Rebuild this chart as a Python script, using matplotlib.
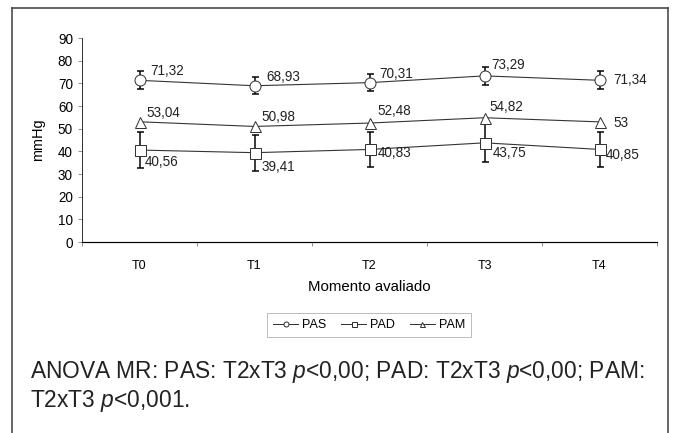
import matplotlib
matplotlib.use('Agg')
from matplotlib import pyplot as plt
from matplotlib.lines import Line2D

plt.rcParams['font.family'] = ['Liberation Sans', 'DejaVu Sans']
plt.rcParams['mathtext.fontset'] = 'custom'
plt.rcParams['mathtext.rm'] = 'Liberation Sans'
plt.rcParams['mathtext.it'] = 'Liberation Sans:italic'

#%% data
moments = ['T0', 'T1', 'T2', 'T3', 'T4']
pas = [71.32, 68.93, 70.31, 73.29, 71.34]
pas_sd = [4.0, 3.8, 3.8, 3.9, 3.9]
pad = [40.56, 39.41, 40.83, 43.75, 40.85]
pad_sd = [7.9, 7.9, 7.9, 8.3, 7.9]
pam = [53.04, 50.98, 52.48, 54.82, 53]

# label offsets (px) for each value label
pas_off = [(11, 9), (12, 9), (10, 9), (7, 11), (14, 0)]
pam_off = [(7, 9), (7, 9), (8, 12), (5, 11), (14, -1)]
pad_off = [(5, -12), (7, -14), (8, -4), (8, -10), (6, -6)]

DPI = 72
fig = plt.figure(figsize=(675 / DPI, 433 / DPI), dpi=DPI)
W, H = 675, 433
ax = fig.add_axes([82 / W, 1 - 242 / H, (657 - 82) / W, (242 - 38) / H])

x = list(range(len(moments)))
line_kw = dict(color='#333333', lw=1.1, markersize=11, markerfacecolor='white',
               markeredgecolor='#333333', markeredgewidth=1.0, zorder=3)
err_kw = dict(fmt='none', ecolor='black', elinewidth=1.5, capsize=3.5, capthick=1.5, zorder=2)

ax.errorbar(x, pad, yerr=pad_sd, **err_kw)
ax.errorbar(x, pas, yerr=pas_sd, **err_kw)
ax.plot(x, pas, marker='o', label='PAS', **line_kw)
ax.plot(x, pad, marker='s', label='PAD', **line_kw)
ax.plot(x, pam, marker='^', label='PAM', **line_kw)


def fmt(v):
    s = f'{v:.2f}'.rstrip('0').rstrip('.')
    return s.replace('.', ',')


for vals, offs in [(pas, pas_off), (pam, pam_off), (pad, pad_off)]:
    for i, (v, o) in enumerate(zip(vals, offs)):
        ax.annotate(fmt(v), (i, v), xytext=o, textcoords='offset points',
                    ha='left', va='center', fontsize=13.5, color='#222222')

ax.set_xlim(-0.5, 4.5)
ax.set_ylim(0, 90)
ax.set_yticks(range(0, 91, 10))
ax.set_xticks([i - 0.5 for i in range(6)])
ax.set_xticklabels([])
ax.set_xticks(x, minor=True)
ax.set_xticklabels(moments, minor=True)
ax.tick_params(axis='x', which='minor', length=0, pad=18, labelsize=12.5)
ax.tick_params(axis='x', which='major', length=4, color='#777777')
ax.tick_params(axis='y', length=4, labelsize=13.5, color='#777777', pad=5)
for s in ['top', 'right']:
    ax.spines[s].set_visible(False)
ax.spines['bottom'].set_linewidth(1.2)
ax.spines['left'].set_linewidth(1.0)
ax.spines['left'].set_color('#333333')
ax.set_ylabel('mmHg', fontsize=14.5, labelpad=13)
ax.set_xlabel('Momento avaliado', fontsize=15, labelpad=8)

handles = [Line2D([], [], color='#333333', lw=1, marker=m, markersize=5,
                  markerfacecolor='white', markeredgecolor='#333333')
           for m in ['o', 's', '^']]
leg = fig.legend(handles, ['PAS', 'PAD', 'PAM'], loc='center',
                 bbox_to_anchor=(369 / W, 1 - 325 / H), ncol=3, fontsize=12.5,
                 frameon=True, fancybox=False, edgecolor='#999999',
                 handlelength=2.0, handletextpad=0.3, columnspacing=1.2,
                 borderpad=0.5, borderaxespad=0)
leg.get_frame().set_linewidth(0.8)

fig.text(30 / W, 1 - 372 / H,
         r'ANOVA MR: PAS: T2xT3 $\it{p}$<0,00; PAD: T2xT3 $\it{p}$<0,00; PAM:',
         fontsize=22.8, va='center', ha='left', color='#222222')
fig.text(30 / W, 1 - 401 / H, r'T2xT3 $\it{p}$<0,001.',
         fontsize=22.8, va='center', ha='left', color='#222222')

# outer frame
fx0, fx1, fy0 = 12 / W, 668 / W, 1 - 8 / H
for xs, ys in [([fx0, fx0], [fy0, -0.1]), ([fx1, fx1], [fy0, -0.1]), ([fx0, fx1], [fy0, fy0])]:
    fig.add_artist(Line2D(xs, ys, color='#444444', lw=1.6, transform=fig.transFigure))

fig.savefig('out.png', dpi=DPI, facecolor='white')
